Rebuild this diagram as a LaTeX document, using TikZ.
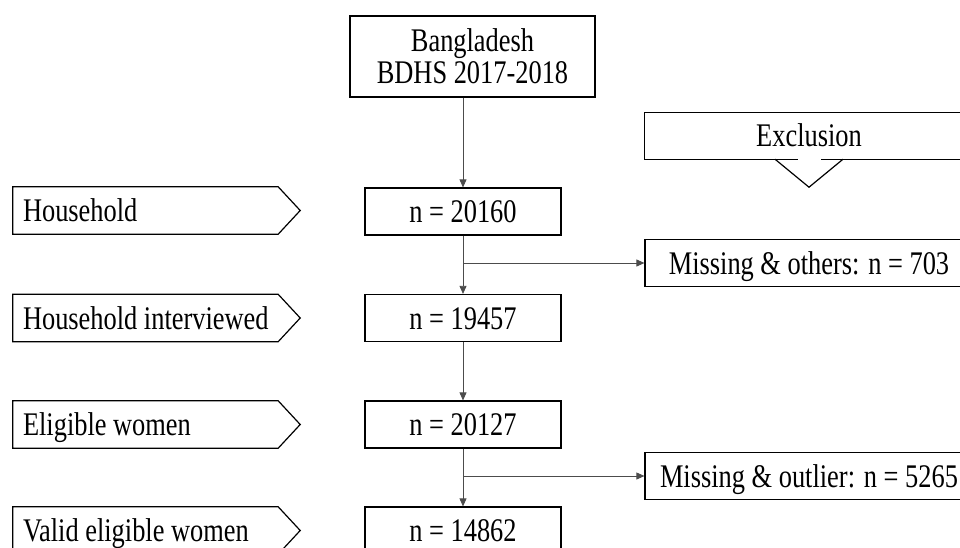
\documentclass[tikz,border=0pt]{standalone}
\usepackage{fontspec}
\setmainfont{Liberation Serif}[FakeStretch=0.8]
\usetikzlibrary{arrows.meta,calc}
\begin{document}
\begin{tikzpicture}[x=1pt,y=-1pt,
  txt/.style={font=\fontsize{33}{32}\selectfont},
  box/.style={txt,draw=black,line width=1.2pt,fill=white,inner sep=0pt,align=center,text height=22pt,text depth=0pt},
  nbox/.style={box,minimum width=196pt,minimum height=47pt},
  mbox/.style={box,minimum width=328pt,minimum height=47pt},
  lab/.style={txt,inner xsep=10pt,inner ysep=0pt,minimum height=47pt,text height=22pt,text depth=0pt},
  shp/.style={draw=black,line width=1.2pt},
  conn/.style={draw=black!70,line width=0.8pt},
  arr/.style={conn,-{Triangle[length=8pt,width=7pt]}}]
\useasboundingbox (0,0) rectangle (960,548);

% source box
\node[txt,draw=black,line width=1.2pt,align=center,inner sep=0pt,minimum width=245pt,minimum height=81pt] (top) at (472.5,56.5) {Bangladesh\\BDHS 2017-2018};

% count boxes
\node[nbox] (n1) at (463,211.5) {n = 20160};
\node[nbox] (n2) at (463,318) {n = 19457};
\node[nbox] (n3) at (463,424.5) {n = 20127};
\node[nbox] (n4) at (463,530.5) {n = 14862};

% exclusion boxes
\node[mbox] (m1) at (809,263) {Missing \& others: n = 703};
\node[mbox] (m2) at (809,476) {Missing \& outlier: n = 5265};

% exclusion header
\node[txt,inner sep=0pt,minimum width=328pt,minimum height=46pt,text height=22pt,text depth=0pt] (ex) at (809,136) {Exclusion};
\draw[shp] ($(ex.south west)+(153,0)$) -- (ex.south west) -- (ex.north west) -- (ex.north east) -- (ex.south east) -- ($(ex.south east)+(-152,0)$);
\draw[shp] ($(ex.south)+(-34,0)$) -- ($(ex.south)+(0,28)$) -- ($(ex.south)+(34,0)$);

% left labels
\foreach \nm/\yy/\tx in {l1/210.5/Household, l2/318/Household interviewed, l3/424.5/Eligible women, l4/530.5/Valid eligible women}{
  \node[lab] (\nm) at (145.5,\yy) {\makebox[245pt][l]{\tx}};
  \draw[shp] (\nm.north west) -- (\nm.north east) -- ($(\nm.east)+(22,0)$) -- (\nm.south east) -- (\nm.south west) -- cycle;
}

% connectors
\draw[arr] (n1.north |- top.south) -- (n1.north);
\draw[arr] (n1.south) -- (n2.north);
\draw[arr] (n1.south |- m1.west) -- (m1.west);
\draw[arr] (n2.south) -- (n3.north);
\draw[arr] (n3.south) -- (n4.north);
\draw[arr] (n3.south |- m2.west) -- (m2.west);
\end{tikzpicture}
\end{document}
